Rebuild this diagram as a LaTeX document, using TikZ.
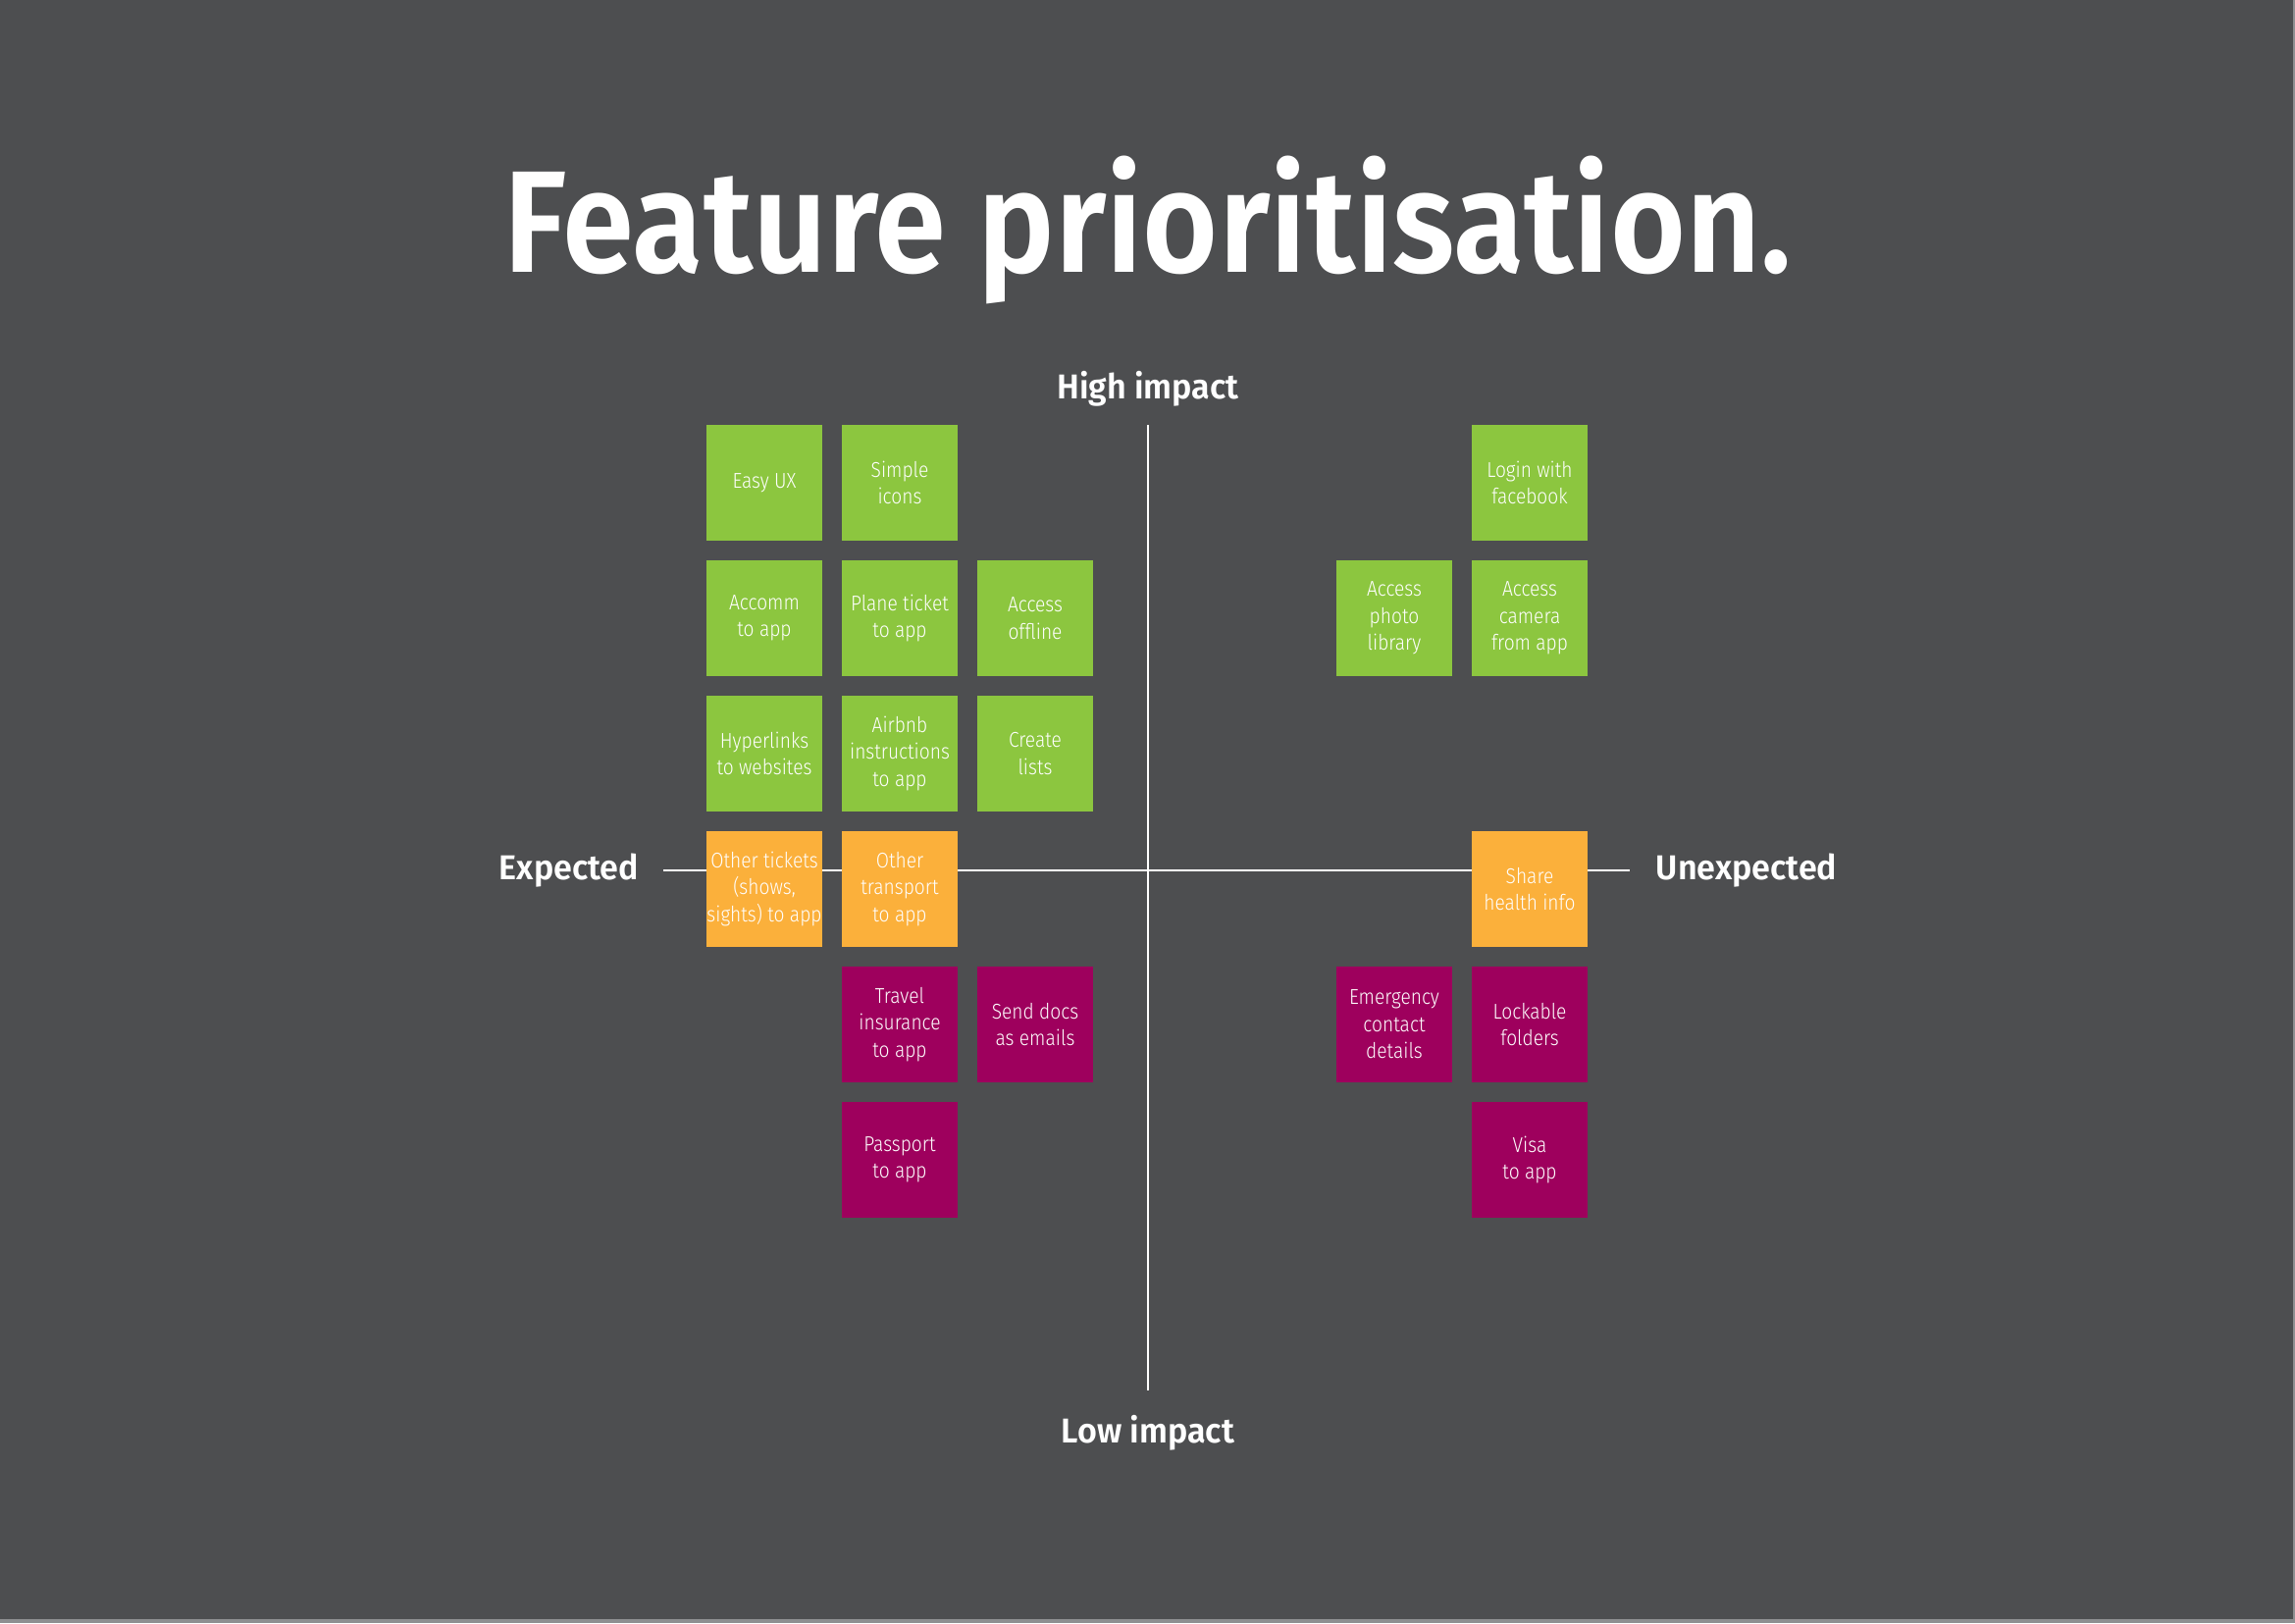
\documentclass[tikz,border=0pt]{standalone}
\usepackage{fontspec}
\setmainfont{Fira Sans}
\IfFontExistsTF{Fira Sans Light}
  {\newfontfamily\boxfont{Fira Sans Light}[FakeStretch=0.88]}
  {\newfontfamily\boxfont{Fira Sans}[FakeStretch=0.88]}
\IfFontExistsTF{Fira Sans SemiBold}
  {\newfontfamily\headfont{Fira Sans SemiBold}[FakeStretch=0.895]
   \newfontfamily\labelfont{Fira Sans SemiBold}[FakeStretch=0.97]}
  {\newfontfamily\headfont{Fira Sans Bold}[FakeStretch=0.9]
   \newfontfamily\labelfont{Fira Sans Bold}[FakeStretch=0.95]}
\definecolor{bg}{HTML}{4D4E50}
\definecolor{gr}{HTML}{8CC63F}
\definecolor{orng}{HTML}{FBB03B}
\definecolor{mag}{HTML}{9E005D}
\definecolor{edge}{HTML}{8E8F91}
\tikzset{
  card/.style={minimum width=11.8mm, minimum height=11.8mm, inner sep=0pt,
    align=center, text=white, font=\boxfont\fontsize{6.2}{7.8}\selectfont},
  gcard/.style={card, fill=gr},
  ocard/.style={card, fill=orng},
  mcard/.style={card, fill=mag},
  axislabel/.style={text=white, anchor=base, inner sep=0pt,
    font=\labelfont\fontsize{10}{12}\selectfont},
  axisline/.style={draw=white, line width=0.25mm}
}
\begin{document}
\begin{tikzpicture}[x=0.1mm, y=-0.1mm]
\useasboundingbox (0,0) rectangle (2339,1654);
\fill[bg] (0,0) rectangle (2339,1654);
\fill[edge] (0,1650) rectangle (2339,1654);
\fill[edge] (2337,0) rectangle (2339,1654);

% title
\node[text=white, anchor=base, inner sep=0pt,
  font=\headfont\fontsize{42}{50}\selectfont] (title) at (1170,277) {Feature prioritisation.};

% axes
\coordinate (top) at (1170,433);
\coordinate (bot) at (1170,1417);
\coordinate (lft) at (676,887);
\coordinate (rgt) at (1661,887);
\draw[axisline] (top) -- (bot);
\draw[axisline] (lft) -- (rgt);

\node[axislabel] (high) at (1170,406) {High impact};
\node[axislabel] (low) at (1170,1470) {Low impact};
\node[axislabel] (exp) at (580,896) {Expected};
\node[axislabel] (unexp) at (1780,896) {Unexpected};

% expected side
\node[gcard] (easy) at (779,492) {Easy UX};
\node[gcard] (icons) at (917,492) {Simple\\icons};
\node[gcard] (accomm) at (779,630) {Accomm\\to app};
\node[gcard] (plane) at (917,630) {Plane ticket\\to app};
\node[gcard] (offline) at (1055,630) {Access\\offline};
\node[gcard] (hyper) at (779,768) {Hyperlinks\\to websites};
\node[gcard] (airbnb) at (917,768) {Airbnb\\instructions\\to app};
\node[gcard] (lists) at (1055,768) {Create\\lists};
\node[ocard] (tickets) at (779,906) {Other tickets\\(shows,\\sights) to app};
\node[ocard] (transport) at (917,906) {Other\\transport\\to app};
\node[mcard] (insurance) at (917,1044) {Travel\\insurance\\to app};
\node[mcard] (docs) at (1055,1044) {Send docs\\as emails};
\node[mcard] (passport) at (917,1182) {Passport\\to app};

% unexpected side
\node[gcard] (login) at (1559,492) {Login with\\facebook};
\node[gcard] (photo) at (1421,630) {Access\\photo\\library};
\node[gcard] (camera) at (1559,630) {Access\\camera\\from app};
\node[ocard] (health) at (1559,906) {Share\\health info};
\node[mcard] (emergency) at (1421,1044) {Emergency\\contact\\details};
\node[mcard] (lockable) at (1559,1044) {Lockable\\folders};
\node[mcard] (visa) at (1559,1182) {Visa\\to app};
\end{tikzpicture}
\end{document}
